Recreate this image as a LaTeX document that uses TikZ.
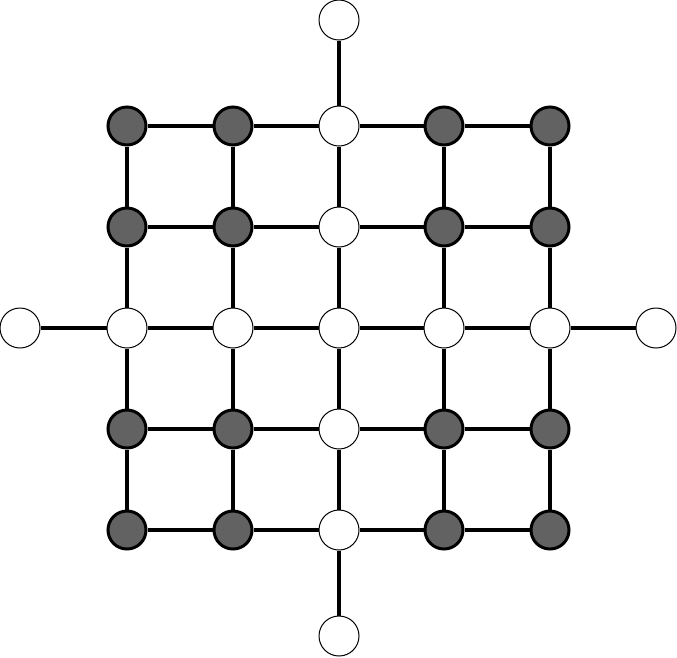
\documentclass[tikz,border=0pt]{standalone}
\definecolor{nodegray}{RGB}{98,98,98}
\begin{document}
\begin{tikzpicture}[x=1pt,y=-1pt,
  dark/.style={circle,draw=black,fill=nodegray,line width=3pt,minimum size=38pt,inner sep=0pt},
  light/.style={circle,draw=black,fill=white,line width=1pt,minimum size=40pt,inner sep=0pt},
  edge/.style={line width=3.3pt,black}]
\useasboundingbox (0,0) rectangle (677,657);
% grid positions
\def\cA{127}\def\cB{233}\def\cC{339}\def\cD{444}\def\cE{550}
\def\rA{126}\def\rB{227}\def\rC{328}\def\rD{429}\def\rE{530}
% row 1
\node[dark]  (n11) at (\cA,\rA) {};
\node[dark]  (n12) at (\cB,\rA) {};
\node[light] (n13) at (\cC,\rA) {};
\node[dark]  (n14) at (\cD,\rA) {};
\node[dark]  (n15) at (\cE,\rA) {};
% row 2
\node[dark]  (n21) at (\cA,\rB) {};
\node[dark]  (n22) at (\cB,\rB) {};
\node[light] (n23) at (\cC,\rB) {};
\node[dark]  (n24) at (\cD,\rB) {};
\node[dark]  (n25) at (\cE,\rB) {};
% row 3
\node[light] (n31) at (\cA,\rC) {};
\node[light] (n32) at (\cB,\rC) {};
\node[light] (n33) at (\cC,\rC) {};
\node[light] (n34) at (\cD,\rC) {};
\node[light] (n35) at (\cE,\rC) {};
% row 4
\node[dark]  (n41) at (\cA,\rD) {};
\node[dark]  (n42) at (\cB,\rD) {};
\node[light] (n43) at (\cC,\rD) {};
\node[dark]  (n44) at (\cD,\rD) {};
\node[dark]  (n45) at (\cE,\rD) {};
% row 5
\node[dark]  (n51) at (\cA,\rE) {};
\node[dark]  (n52) at (\cB,\rE) {};
\node[light] (n53) at (\cC,\rE) {};
\node[dark]  (n54) at (\cD,\rE) {};
\node[dark]  (n55) at (\cE,\rE) {};
% extra nodes
\node[light] (top)    at (\cC,20) {};
\node[light] (bottom) at (\cC,636) {};
\node[light] (left)   at (20,\rC) {};
\node[light] (right)  at (656,\rC) {};
% edges
\foreach \r in {1,...,5}{
  \foreach \c/\d in {1/2,2/3,3/4,4/5}{
    \draw[edge] (n\r\c) -- (n\r\d);
  }
}
\foreach \c in {1,...,5}{
  \foreach \r/\s in {1/2,2/3,3/4,4/5}{
    \draw[edge] (n\r\c) -- (n\s\c);
  }
}
\draw[edge] (top) -- (n13);
\draw[edge] (n53) -- (bottom);
\draw[edge] (left) -- (n31);
\draw[edge] (n35) -- (right);
\end{tikzpicture}
\end{document}
